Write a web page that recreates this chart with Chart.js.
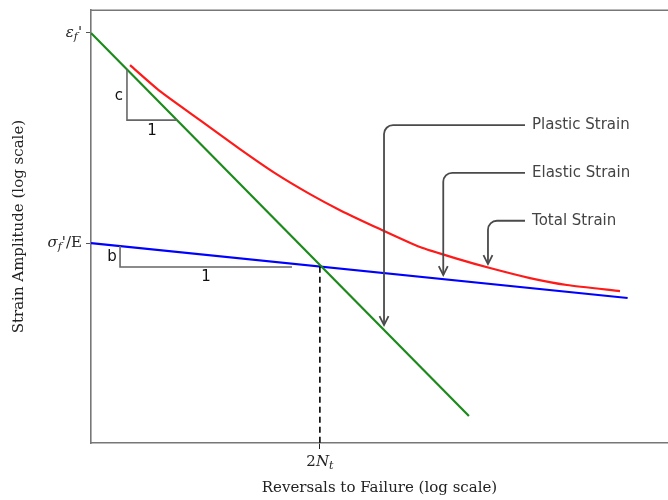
<!DOCTYPE html>
<html>
<head>
<meta charset="utf-8">
<script src="https://cdn.jsdelivr.net/npm/chart.js@4.4.1/dist/chart.umd.min.js"></script>
<style>
  html, body { margin: 0; padding: 0; background: #fff; overflow: hidden; }
  canvas { display: block; }
</style>
</head>
<body>
<canvas id="c" width="668" height="500"></canvas>
<script>
// ---- Data (log10 units) ----
const plasticX = [0, 3.93];
const plasticY = [-1.21, -4.75];
const elasticX = [0, 5.58];
const elasticY = [-3.152, -3.66];
const totalX = [0.406, 0.717, 1.133, 1.549, 1.913, 2.277, 2.589, 3.005, 3.421, 3.785, 4.149, 4.565, 4.949, 5.501];
const totalY = [-1.508, -1.748, -2.016, -2.284, -2.506, -2.700, -2.848, -3.023, -3.189, -3.291, -3.383, -3.476, -3.540, -3.596];
const transitionX = 2.38;
const transitionY = -3.37;
const yTickValues = [-1.21, -3.152];
const yTickLabels = ["εf'", "σf'/E"];
const xTickValues = [2.38];
const xTickLabels = ["2Nt"];
const triCX = [0.374, 0.374, 0.895];
const triCY = [-1.547, -2.016, -2.016];
const triBX = [0.302, 0.302, 2.09];
const triBY = [-3.179, -3.374, -3.374];
const seriesNames = ["Plastic Strain", "Elastic Strain", "Total Strain"];

const pts = (xs, ys) => xs.map((x, i) => ({ x, y: ys[i] }));

// rich label parts for math-like tick labels
const tickParts = {
  "εf'": [{ t: "ε", it: true }, { t: "f", it: true, sub: true }, { t: "'", it: false }],
  "σf'/E": [{ t: "σ", it: true }, { t: "f", it: true, sub: true }, { t: "'/E", it: false }],
  "2Nt": [{ t: "2", it: false }, { t: "N", it: true }, { t: "t", it: true, sub: true }]
};

function partFont(p) {
  const size = p.sub ? 11 : 15;
  return (p.it ? "italic " : "") + size + "px 'DejaVu Serif'";
}
function drawRich(ctx, parts, x, y, align) {
  let w = 0;
  parts.forEach(p => { ctx.font = partFont(p); w += ctx.measureText(p.t).width; });
  let cx = align === "right" ? x - w : (align === "center" ? x - w / 2 : x);
  ctx.textBaseline = "middle";
  ctx.textAlign = "left";
  parts.forEach(p => {
    ctx.font = partFont(p);
    ctx.fillText(p.t, cx, p.sub ? y + 4 : y);
    cx += ctx.measureText(p.t).width;
  });
}

const decor = {
  id: "decor",
  afterDatasetsDraw(chart) {
    const { ctx, chartArea: a, scales: { x, y } } = chart;
    ctx.save();
    // top frame line
    ctx.strokeStyle = "#777";
    ctx.lineWidth = 1.6;
    ctx.beginPath();
    ctx.moveTo(a.left, a.top);
    ctx.lineTo(a.right, a.top);
    ctx.stroke();

    // tick labels
    ctx.fillStyle = "#222";
    yTickValues.forEach((v, i) => drawRich(ctx, tickParts[yTickLabels[i]], a.left - 9, y.getPixelForValue(v), "right"));
    xTickValues.forEach((v, i) => drawRich(ctx, tickParts[xTickLabels[i]], x.getPixelForValue(v), a.bottom + 19, "center"));

    // slope triangle labels
    ctx.font = "15px 'DejaVu Sans'";
    ctx.textAlign = "center";
    ctx.textBaseline = "middle";
    ctx.fillStyle = "#111";
    ctx.fillText("c", x.getPixelForValue(0.291), y.getPixelForValue(-1.794));
    ctx.fillText("1", x.getPixelForValue(0.634), y.getPixelForValue(-2.118));
    ctx.fillText("b", x.getPixelForValue(0.218), y.getPixelForValue(-3.282));
    ctx.fillText("1", x.getPixelForValue(1.196), y.getPixelForValue(-3.467));

    // annotations
    const ann = [
      { text: seriesNames[0], ty: -2.062, vx: 3.047, tip: -3.910 },
      { text: seriesNames[1], ty: -2.503, vx: 3.663, tip: -3.448 },
      { text: seriesNames[2], ty: -2.946, vx: 4.128, tip: -3.346 }
    ];
    ann.forEach(an => {
      const hy = y.getPixelForValue(an.ty);
      const sx = x.getPixelForValue(4.513);
      const vx = x.getPixelForValue(an.vx);
      const ty = y.getPixelForValue(an.tip);
      const r = 9;
      ctx.strokeStyle = "#4a4a4a";
      ctx.lineWidth = 1.8;
      ctx.beginPath();
      ctx.moveTo(sx, hy);
      ctx.lineTo(vx + r, hy);
      ctx.arcTo(vx, hy, vx, hy + r, r);
      ctx.lineTo(vx, ty);
      ctx.stroke();
      ctx.beginPath();
      ctx.moveTo(vx - 4.5, ty - 9);
      ctx.lineTo(vx, ty);
      ctx.lineTo(vx + 4.5, ty - 9);
      ctx.stroke();
      ctx.fillStyle = "#444";
      ctx.font = "15px 'DejaVu Sans'";
      ctx.textAlign = "left";
      ctx.textBaseline = "middle";
      ctx.fillText(an.text, x.getPixelForValue(4.586), hy);
    });
    ctx.restore();
  }
};

const lineDs = (label, data, color, width, extra) => Object.assign({
  label, data, borderColor: color, backgroundColor: color, borderWidth: width,
  pointRadius: 0, tension: 0, fill: false, showLine: true
}, extra || {});

new Chart(document.getElementById("c"), {
  type: "scatter",
  data: {
    datasets: [
      lineDs("triC", pts(triCX, triCY), "#666", 1.6),
      lineDs("triB", pts(triBX, triBY), "#666", 1.6),
      lineDs("dash", [{ x: transitionX, y: transitionY }, { x: transitionX, y: -5 }], "#000", 1.6, { borderDash: [6, 4] }),
      lineDs(seriesNames[0], pts(plasticX, plasticY), "#1a8a1a", 2.2),
      lineDs(seriesNames[1], pts(elasticX, elasticY), "#0000ff", 2.2),
      lineDs(seriesNames[2], pts(totalX, totalY), "#ff1a1a", 2.2, { tension: 0.2 })
    ]
  },
  options: {
    responsive: false,
    animation: false,
    layout: { padding: { top: 10, right: 0, left: 0, bottom: 0 } },
    plugins: { legend: { display: false }, tooltip: { enabled: false } },
    scales: {
      x: {
        type: "linear", min: 0, max: 6, position: "bottom",
        border: { display: true, color: "#777", width: 1.6 },
        grid: { drawOnChartArea: false, drawTicks: true, tickLength: 6, tickColor: "#222", color: "#222" },
        ticks: { autoSkip: false, callback: () => "" },
        afterBuildTicks: s => { s.ticks = xTickValues.map(v => ({ value: v })); },
        afterFit: s => { s.height = 57; },
        title: { display: true, text: "Reversals to Failure (log scale)", color: "#222",
                 font: { family: "DejaVu Serif", size: 15 }, padding: { top: 0, bottom: 3 } }
      },
      y: {
        type: "linear", min: -5, max: -1, position: "left",
        border: { display: true, color: "#777", width: 1.6 },
        grid: { drawOnChartArea: false, drawTicks: true, tickLength: 5, tickColor: "#555", color: "#555" },
        ticks: { autoSkip: false, callback: () => "" },
        afterBuildTicks: s => { s.ticks = yTickValues.map(v => ({ value: v })); },
        afterFit: s => { s.width = 91; },
        title: { display: true, text: "Strain Amplitude (log scale)", color: "#222",
                 font: { family: "DejaVu Serif", size: 15 }, padding: { top: 10, bottom: 0 } }
      }
    }
  },
  plugins: [decor]
});
</script>
</body>
</html>
